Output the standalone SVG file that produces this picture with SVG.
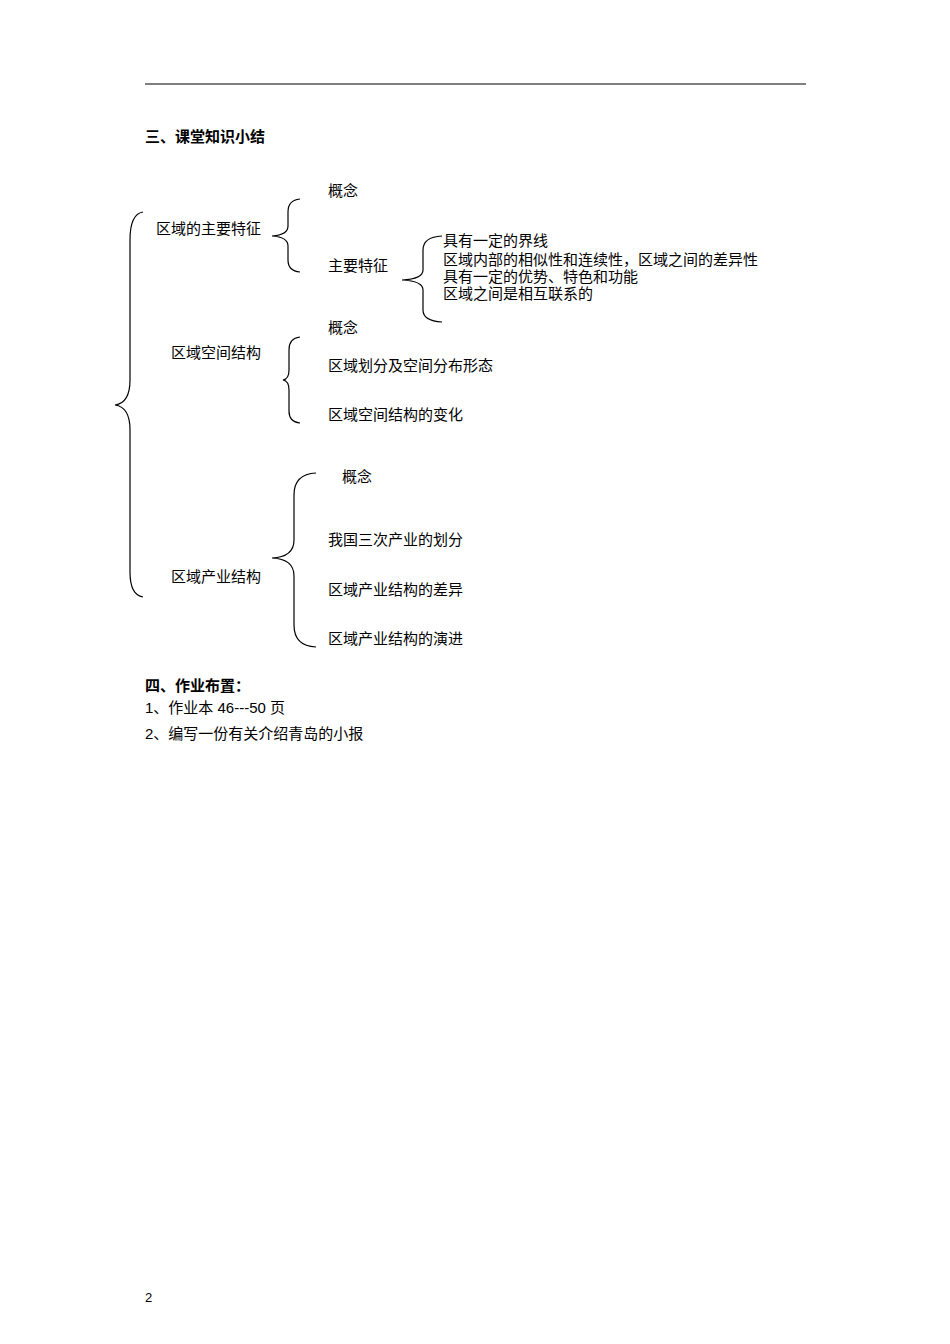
<svg xmlns="http://www.w3.org/2000/svg" width="950" height="1344" viewBox="0 0 950 1344">
<style>
text{font-family:"Liberation Serif","Noto Sans CJK SC",serif;font-size:15px;fill:#000}
.b{font-weight:bold;font-family:"Liberation Sans","Noto Sans CJK SC",sans-serif}
.s{font-family:"Liberation Sans","Noto Sans CJK SC",sans-serif}
path{fill:none;stroke:#000;stroke-width:1.2}
</style>
<rect width="950" height="1344" fill="#fff"/>
<line x1="145" y1="84" x2="806" y2="84" stroke="#000" stroke-width="1.2"/>
<text class="b" x="145" y="142">三、课堂知识小结</text>
<g id="connectors">
<path d="M143,212 Q130,214 130,240 L130,380 Q130,403 115,405 Q130,407 130,430 L130,572 Q130,595 143,597"/>
<path d="M300,199 Q288,200 288,212 L288,226 Q288,235 272,236 Q288,237 288,246 L288,260 Q288,271 300,272"/>
<path d="M442,236 Q423,237 423,250 L423,270 Q423,279 402,280 Q423,281 423,290 L423,310 Q423,321 442,322"/>
<path d="M300,337 Q289,338 289,350 L289,370 Q289,379 283,380 Q289,381 289,390 L289,411 Q289,422 300,423"/>
<path d="M316,473 Q294,474 294,495 L294,540 Q294,557 272,558 Q294,559 294,576 L294,625 Q294,646 316,647"/>
</g>
<g id="n1"><text x="156" y="234">区域的主要特征</text></g>
<g id="n2"><text x="328" y="196">概念</text></g>
<g id="n3"><text x="328" y="271">主要特征</text></g>
<g id="n4"><text x="443" y="246">具有一定的界线</text>
<text x="443" y="265">区域内部的相似性和连续性，区域之间的差异性</text>
<text x="443" y="282">具有一定的优势、特色和功能</text>
<text x="443" y="299">区域之间是相互联系的</text></g>
<g id="n5"><text x="328" y="333">概念</text></g>
<g id="n6"><text x="171" y="358">区域空间结构</text></g>
<g id="n7"><text x="328" y="371">区域划分及空间分布形态</text></g>
<g id="n8"><text x="328" y="420">区域空间结构的变化</text></g>
<g id="n9"><text x="342" y="482">概念</text></g>
<g id="n10"><text x="328" y="545">我国三次产业的划分</text></g>
<g id="n11"><text x="171" y="582">区域产业结构</text></g>
<g id="n12"><text x="328" y="595">区域产业结构的差异</text></g>
<g id="n13"><text x="328" y="644">区域产业结构的演进</text></g>
<text class="b" x="145" y="691">四、作业布置：</text>
<text class="s" x="145" y="713">1、作业本 46---50 页</text>
<text class="s" x="145" y="739">2、编写一份有关介绍青岛的小报</text>
<text class="s" x="145" y="1302" style="font-size:13px">2</text>
</svg>
